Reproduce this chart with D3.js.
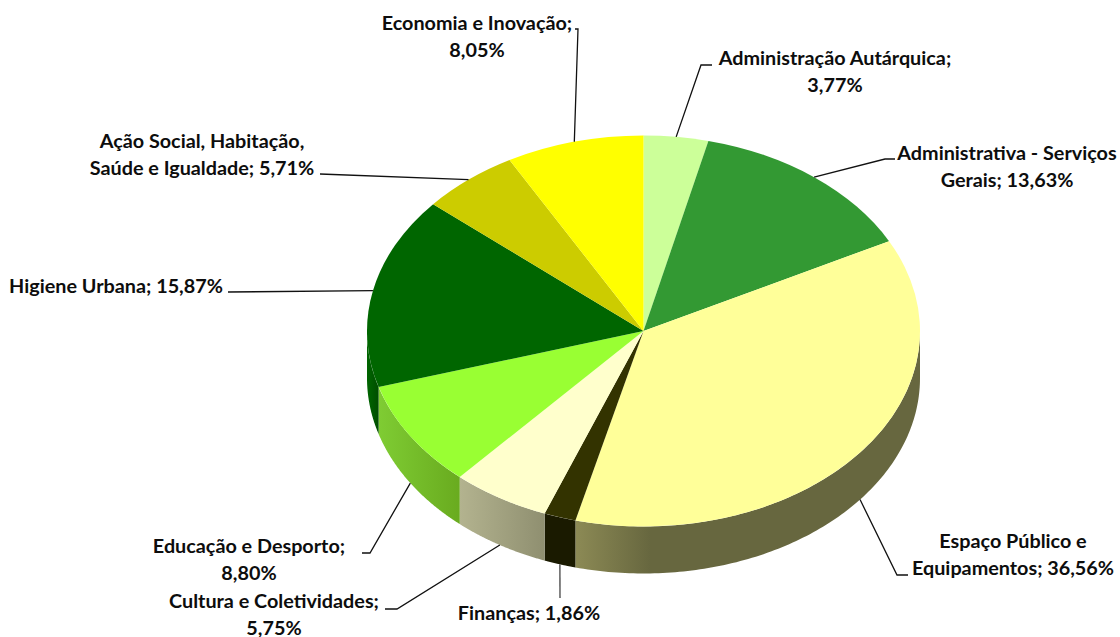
<!DOCTYPE html>
<html><head><meta charset="utf-8">
<script src="https://cdn.jsdelivr.net/npm/d3@7/dist/d3.min.js"></script>
<style>html,body{margin:0;padding:0;background:#fff}svg{display:block}
text{font-family:Lato,"Open Sans",sans-serif;font-weight:700;font-size:19.8px;fill:#0d0d0d;text-anchor:middle;dominant-baseline:central}</style>
</head><body><svg id="c" width="1120" height="637"></svg>
<script>
const categories = ["Administração Autárquica","Administrativa - Serviços Gerais","Espaço Público e Equipamentos","Finanças","Cultura e Coletividades","Educação e Desporto","Higiene Urbana","Ação Social, Habitação, Saúde e Igualdade","Economia e Inovação"];
const values = [3.77,13.63,36.56,1.86,5.75,8.80,15.87,5.71,8.05];
const topColors = ["#CCFF99","#339933","#FFFF99","#333300","#FFFFCC","#99FF33","#006600","#CCCC00","#FFFF00"];
const wallColors = [["#aacc80","#aacc80"],["#287a28","#287a28"],["#8c8a55","#67673f"],["#1a1a00","#1a1a00"],["#b3b38f","#8f8f70"],["#7fcc33","#69ab1f"],["#006600","#004d00"],["#a3a300","#a3a300"],["#cccc00","#cccc00"]];
const labelLines = [["Administração Autárquica;","3,77%"],["Administrativa - Serviços","Gerais; 13,63%"],["Espaço Público e","Equipamentos; 36,56%"],["Finanças; 1,86%"],["Cultura e Coletividades;","5,75%"],["Educação e Desporto;","8,80%"],["Higiene Urbana; 15,87%"],["Ação Social, Habitação,","Saúde e Igualdade; 5,71%"],["Economia e Inovação;","8,05%"]];
const labelCenters = [[835,57],[1007,152],[1013,540],[529,612],[274,600],[249,545],[116,285],[202,140],[477,22]];
const leaderStarts = [[[712,65],[701,65]],[[895,159],[885,159]],[[908,575],[897,575]],[[560,598]],[[385,609],[397,609]],[[362,553],[370,553]],[[228,292]],[[320,174]],[[575,29],[578,29]]];
const cx=643.5, cy=331, rx=276.5, ry=195.5, depth=47, lineGap=26.5;

const svg=d3.select("#c"), defs=svg.append("defs");
const arcs=d3.pie().sort(null).value(d=>d)(values);
const px=t=>cx+rx*Math.sin(t), py=t=>cy-ry*Math.cos(t);
const wall=d3.area().x(px).y0(py).y1(t=>py(t)+depth);
const vis0=Math.PI/2, vis1=Math.PI*1.5;

// walls
const walls=svg.append("g");
arcs.forEach((a,i)=>{
  const s=Math.max(a.startAngle,vis0), e=Math.min(a.endAngle,vis1);
  if(s>=e) return;
  const id="w"+i, x0=Math.min(px(s),px(e)), x1=Math.max(px(s),px(e));
  const g=defs.append("linearGradient").attr("id",id).attr("gradientUnits","userSpaceOnUse")
    .attr("x1",x0).attr("x2",i===2?x0+75:x1).attr("y1",0).attr("y2",0);
  g.append("stop").attr("offset",0).attr("stop-color",wallColors[i][0]);
  g.append("stop").attr("offset",1).attr("stop-color",wallColors[i][1]);
  const ts=d3.range(0,121).map(k=>s+(e-s)*k/120);
  walls.append("path").attr("d",wall(ts)).attr("fill",`url(#${id})`);
});

// top faces
const arcGen=d3.arc().innerRadius(0).outerRadius(rx);
svg.append("g").attr("transform",`translate(${cx},${cy}) scale(1,${ry/rx})`)
  .selectAll("path").data(arcs).join("path").attr("d",arcGen).attr("fill",(d,i)=>topColors[i]);

// leaders
const leader=d3.line();
const lg=svg.append("g").attr("fill","none");
arcs.forEach((a,i)=>{
  const m=(a.startAngle+a.endAngle)/2;
  const front=Math.cos(m)<0;
  const anchor=[px(m),py(m)+(front?depth:0)];
  lg.append("path").attr("d",leader([...leaderStarts[i],anchor])).attr("stroke",i===3?"#666":"#111").attr("stroke-width",i===3?1.6:1.3);
});

// labels
const tg=svg.append("g");
labelLines.forEach((ls,i)=>{
  ls.forEach((l,k)=>tg.append("text").attr("x",labelCenters[i][0]).attr("y",labelCenters[i][1]+k*lineGap).text(l));
});
</script></body></html>
